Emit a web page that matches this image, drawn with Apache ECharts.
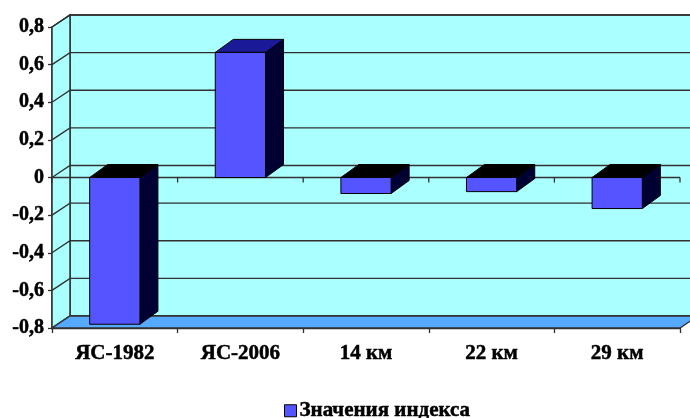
<!DOCTYPE html>
<html><head><meta charset="utf-8">
<script src="https://cdn.jsdelivr.net/npm/echarts@6/dist/echarts.min.js"></script>
<style>html,body{margin:0;padding:0;background:#fff}#c{width:690px;height:418px}</style>
</head><body><div id="c"></div>
<script>
const categories = ['ЯС-1982', 'ЯС-2006', '14 км', '22 км', '29 км'];
const values = [-0.78, 0.665, -0.085, -0.075, -0.165];
const yTicks = [-0.8, -0.6, -0.4, -0.2, 0, 0.2, 0.4, 0.6, 0.8];
const seriesName = 'Значения индекса';

const DX = 18, DY = -12;
const BDX = 18, BDY = -13;
const LINE = '#303030';
const FONT = '"Liberation Serif", "Times New Roman", serif';

const chart = echarts.init(document.getElementById('c'));

function renderBackground(params, api) {
  const cs = params.coordSys;
  const x0 = cs.x, x1 = cs.x + cs.width;
  const yT = api.coord([0, yTicks[yTicks.length - 1]])[1];
  const yB = api.coord([0, yTicks[0]])[1];
  const y0 = api.coord([0, 0])[1];
  const ch = [];
  ch.push({type: 'polygon', shape: {points: [[x0 + DX, yT + DY], [x1 + DX, yT + DY], [x1 + DX, yB + DY], [x0 + DX, yB + DY]]},
    style: {fill: '#aaffff', stroke: LINE, lineWidth: 1.5}});
  ch.push({type: 'polygon', shape: {points: [[x0, yT], [x0 + DX, yT + DY], [x0 + DX, yB + DY], [x0, yB]]},
    style: {fill: '#aaffff', stroke: LINE, lineWidth: 1.5}});
  yTicks.forEach(t => {
    const y = api.coord([0, t])[1];
    ch.push({type: 'polyline', shape: {points: [[x0, y], [x0 + DX, y + DY], [x1 + DX, y + DY]]},
      style: {fill: null, stroke: LINE, lineWidth: 1.3}});
  });
  ch.push({type: 'polygon', shape: {points: [[x0, yB], [x0 + DX, yB + DY], [x1 + DX, yB + DY], [x1, yB]]},
    style: {fill: '#55aaff', stroke: LINE, lineWidth: 1.3}});
  ch.push({type: 'line', shape: {x1: x0, y1: y0, x2: x1, y2: y0}, style: {stroke: LINE, lineWidth: 1.3}});
  const n = categories.length;
  for (let k = 0; k <= n; k++) {
    const xx = x0 + cs.width * k / n;
    ch.push({type: 'line', shape: {x1: xx, y1: y0, x2: xx, y2: y0 + 5}, style: {stroke: LINE, lineWidth: 1.3}});
  }
  return {type: 'group', children: ch};
}

function renderBar(params, api) {
  const i = api.value(0), v = api.value(1);
  const c0 = api.coord([i, 0]);
  const cv = api.coord([i, v]);
  const w = api.size([1, 0])[0] * 0.4;
  const xa = c0[0] - w / 2, xb = xa + w;
  const pos = v >= 0;
  const yTop = pos ? cv[1] : c0[1];
  const yBot = pos ? c0[1] : cv[1];
  const st = {stroke: '#000', lineWidth: 1};
  return {type: 'group', children: [
    {type: 'polygon', shape: {points: [[xb, yTop], [xb + BDX, yTop + BDY], [xb + BDX, yBot + BDY], [xb, yBot]]},
      style: Object.assign({fill: '#000033'}, st)},
    {type: 'polygon', shape: {points: [[xa, yTop], [xa + BDX, yTop + BDY], [xb + BDX, yTop + BDY], [xb, yTop]]},
      style: Object.assign({fill: pos ? '#1a1a99' : '#000000'}, st)},
    {type: 'rect', shape: {x: xa, y: yTop, width: w, height: yBot - yTop},
      style: Object.assign({fill: '#5555ff'}, st)}
  ]};
}

const txt = {color: '#000', fontFamily: FONT, fontWeight: 'bold', textBorderColor: '#000', textBorderWidth: 0.5};

chart.setOption({
  animation: false,
  grid: {left: 52, right: 10, top: 27, bottom: 90},
  xAxis: {
    type: 'category', data: categories, position: 'bottom',
    axisLine: {show: true, onZero: false, lineStyle: {color: LINE, width: 1.3}},
    axisTick: {show: true, length: 5, lineStyle: {color: LINE, width: 1.3}},
    axisLabel: Object.assign({margin: 15, fontSize: 21}, txt),
    splitLine: {show: false}
  },
  yAxis: {
    type: 'value', min: -0.8, max: 0.8, interval: 0.2,
    axisLine: {show: true, lineStyle: {color: LINE, width: 1.5}},
    axisTick: {show: true, length: 4, lineStyle: {color: LINE, width: 1.3}},
    axisLabel: Object.assign({margin: 8, fontSize: 20,
      formatter: v => (Math.abs(v) < 1e-9 ? '0' : v.toFixed(1).replace('.', ','))}, txt),
    splitLine: {show: false}
  },
  legend: {
    top: 395, left: 279, icon: 'rect', itemWidth: 12, itemHeight: 12, itemGap: 4,
    data: [seriesName],
    itemStyle: {borderColor: '#000', borderWidth: 1},
    textStyle: Object.assign({fontSize: 21, padding: [0, 0, 0, -2]}, txt)
  },
  series: [
    {type: 'custom', name: '_bg', z: 1, silent: true, renderItem: renderBackground, data: [[0, 0]]},
    {type: 'custom', name: seriesName, z: 3, renderItem: renderBar, itemStyle: {color: '#5555ff'},
      encode: {x: 0, y: 1}, data: values.map((v, i) => [i, v])}
  ]
});
</script></body></html>
